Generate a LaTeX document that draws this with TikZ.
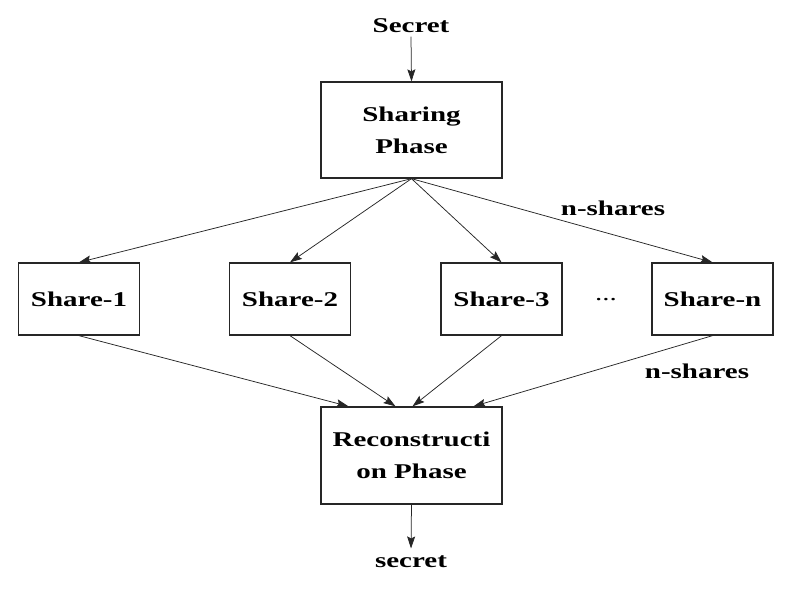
\documentclass[tikz,border=0pt]{standalone}
\usepackage{fontspec}
\setmainfont[FakeStretch=1.38]{Liberation Serif}
\usetikzlibrary{arrows.meta}
\begin{document}
\begin{tikzpicture}[x=1pt,y=-1pt,font=\bfseries\fontsize{21}{32}\selectfont,
box/.style={draw=black!85,line width=1.3pt,fill=white,align=center,inner sep=0pt},
share/.style={box,minimum width=121pt,minimum height=72pt},
arr/.style={-{Stealth[length=12pt,width=8pt,inset=2pt]},line width=.75pt,draw=black!85}]
\useasboundingbox(0,0)rectangle(792,592);

\node(secin)at(411,26){Secret};
\node[box,minimum width=181pt,minimum height=96pt](sharing)at(411.5,130){Sharing\\Phase};
\node[share](s1)at(79,299){Share-1};
\node[share](s2)at(290,299){Share-2};
\node[share](s3)at(501.5,299){Share-3};
\node[share](sn)at(712.5,299){Share-n};
\node[font=\mdseries\fontsize{21}{24}\selectfont](dots)at(606,300){...};
\node[box,minimum width=181pt,minimum height=97pt](recon)at(411.5,455.5){Reconstructi\\on Phase};
\node(secout)at(411,562){secret};
\node(lbltop)at(613,208){n-shares};
\node(lblbot)at(697,371){n-shares};

\draw[arr](secin.south)--(sharing.north);
\foreach \s in {s1,s2,s3,sn}{\draw[arr](sharing.south)--(\s.north);}
\draw[arr](s1.south)--([xshift=-63pt]recon.north);
\draw[arr](s2.south)--([xshift=-16pt]recon.north);
\draw[arr](s3.south)--([xshift=1pt]recon.north);
\draw[arr](sn.south)--([xshift=62pt]recon.north);
\draw[arr](recon.south)--([yshift=4pt]secout.north);
\end{tikzpicture}
\end{document}
